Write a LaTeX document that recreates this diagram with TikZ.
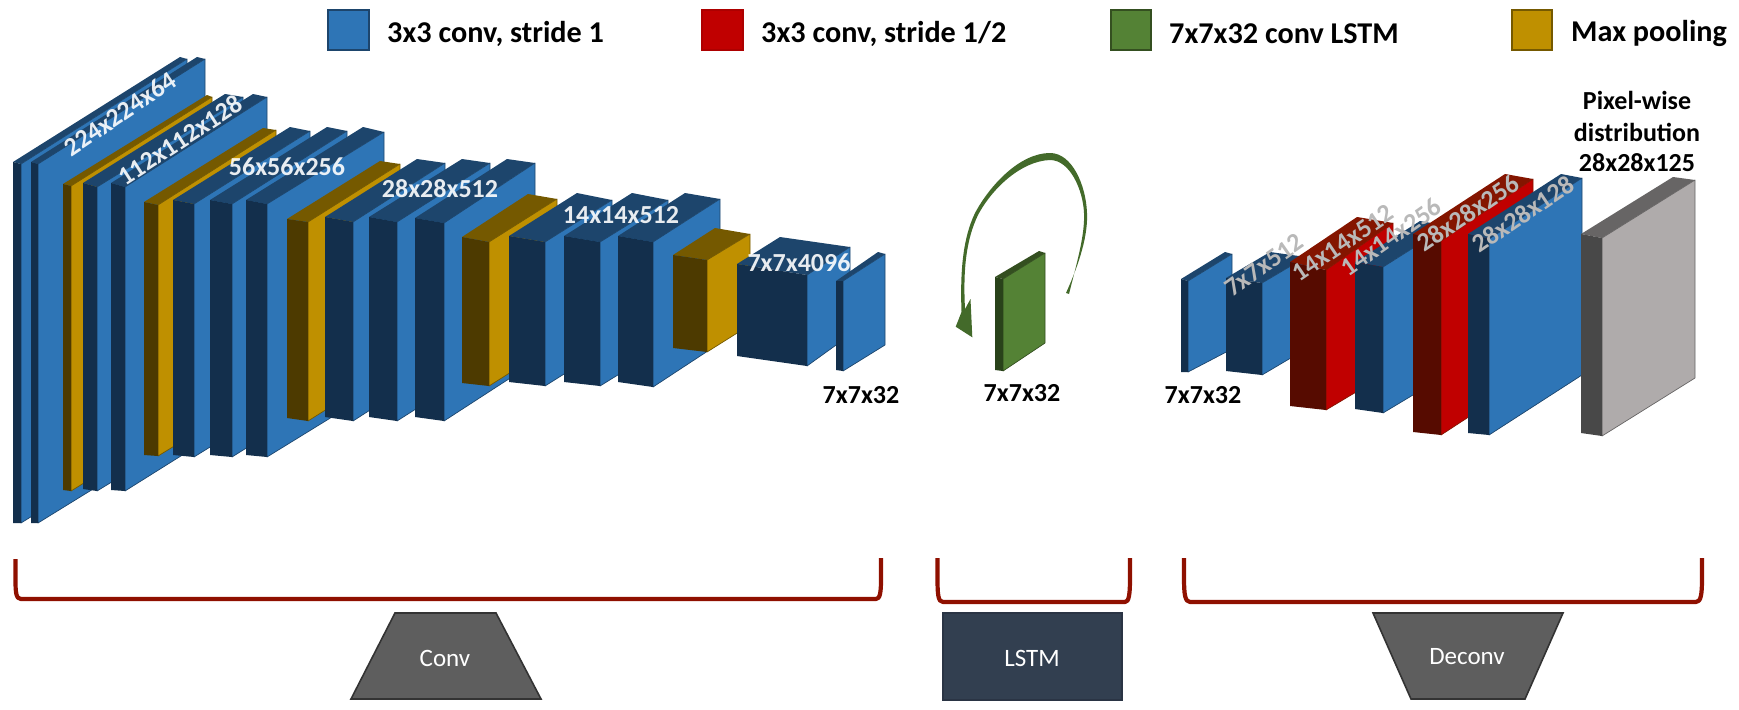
\documentclass[tikz,border=0pt]{standalone}
\usepackage{fontspec}
\setmainfont{Carlito}
\definecolor{bluef}{HTML}{2E75B6}\definecolor{blued}{HTML}{132F4C}\definecolor{bluet}{HTML}{1D456C}
\definecolor{yelf}{HTML}{BF9000}\definecolor{yeld}{HTML}{4D3A00}\definecolor{yelt}{HTML}{755900}
\definecolor{redf}{HTML}{C00000}\definecolor{redd}{HTML}{560B00}\definecolor{redt}{HTML}{841500}
\definecolor{grnf}{HTML}{548235}\definecolor{grnd}{HTML}{29421A}\definecolor{grnt}{HTML}{344F20}
\definecolor{gryf}{HTML}{AFABAB}\definecolor{gryd}{HTML}{484848}\definecolor{gryt}{HTML}{676565}
\definecolor{brk}{HTML}{8F1000}\definecolor{arrowg}{HTML}{436A2A}
% x0 x1 x2 x3 | y0 y1 y2 y3 | yb0 yb1 yb2 | colour
\newcommand{\cub}[4]{\cubB{#1}{#2}{#3}{#4}}
\newcommand{\cubB}[4]{\def\xa{#1}\def\xb{#2}\def\xc{#3}\def\xd{#4}\cubC}
\newcommand{\cubC}[4]{\def\ya{#1}\def\yb{#2}\def\yc{#3}\def\yd{#4}\cubD}
\newcommand{\cubD}[4]{%
  \fill[#4t] (\xa,\ya)--(\xb,\yb)--(\xc,\yc)--(\xd,\yd)--cycle;
  \filldraw[fill=#4f,draw=#4t,line width=0.7pt,line join=round] (\xb,\yb)--(\xc,\yc)--(\xc,#3)--(\xb,#2)--cycle;
  \fill[#4d] (\xa,\ya)--(\xb,\yb)--(\xb,#2)--(\xa,#1)--cycle;}
\tikzset{
  wl/.style={text=white,font=\bfseries\fontsize{26}{30}\selectfont,inner sep=0pt,text opacity=0.9},
  gl/.style={text=gray!55,font=\bfseries\fontsize{26}{30}\selectfont,inner sep=0pt},
  bl/.style={text=black,font=\bfseries\fontsize{26}{31}\selectfont,inner sep=0pt,align=center},
  lg/.style={text=black,font=\bfseries\fontsize{30.2}{36}\selectfont,inner sep=0pt,anchor=west},
  sw/.style={line width=1.6pt},
  tag/.style={text=white,font=\fontsize{25}{30}\selectfont,inner sep=0pt},
  bracket/.style={draw=brk,line width=4.2pt,line join=round},
  shapebox/.style={draw=black!80,line width=1.6pt,fill=black!63}
}
\begin{document}
\begin{tikzpicture}[x=1pt,y=-1pt]
\useasboundingbox (0,0) rectangle (1739,709);
% legend
\filldraw[sw,fill=bluef,draw=bluet] (328,10) rectangle (369,50);
\filldraw[sw,fill=redf,draw=redf!90!black] (702,10) rectangle (743,50);
\filldraw[sw,fill=grnf,draw=grnt] (1111,10) rectangle (1151,50);
\filldraw[sw,fill=yelf,draw=yelt] (1512,10) rectangle (1552,50);
\node[lg] (l1) at (387,33.5) {3x3 conv, stride 1};
\node[lg] (l2) at (761,33.5) {3x3 conv, stride 1/2};
\node[lg] (l3) at (1169,33.5) {7x7x32 conv LSTM};
\node[lg] (l4) at (1571,33.5) {Max pooling};
% encoder
\cub{13}{21}{187}{180}{162}{164}{59}{57}{523}{523}{420}{blue}
\cub{31}{38}{205}{197}{162}{164}{59}{57}{523}{523}{420}{blue}
\cub{63}{71}{212}{207}{184}{186}{97}{95}{490}{491}{404}{yel}
\cub{83}{97}{243}{225}{183}{187}{97}{94}{489}{491}{402}{blue}
\cub{111}{125}{267}{253}{183}{187}{97}{94}{490}{491}{402}{blue}
\cub{144}{158}{276}{263}{202}{205}{130}{128}{455}{456}{384}{yel}
\cub{173}{194}{310}{290}{200}{204}{131}{127}{455}{457}{385}{blue}
\cub{210}{232}{347}{327}{200}{204}{131}{127}{455}{457}{385}{blue}
\cub{246}{267}{384}{363}{200}{204}{132}{127}{455}{457}{385}{blue}
\cub{287}{308}{400}{380}{219}{222}{164}{161}{418}{421}{363}{yel}
\cub{325}{353}{445}{417}{217}{222}{163}{159}{417}{421}{362}{blue}
\cub{369}{397}{490}{462}{217}{222}{163}{159}{417}{421}{362}{blue}
\cub{415}{444}{535}{507}{218}{223}{163}{159}{417}{421}{362}{blue}
\cub{462}{489}{557}{528}{237}{242}{199}{194}{383}{386}{343}{yel}
\cub{509}{545}{612}{577}{236}{242}{200}{193}{382}{386}{344}{blue}
\cub{564}{600}{668}{632}{236}{242}{200}{193}{382}{386}{344}{blue}
\cub{618}{653}{720}{685}{236}{242}{199}{193}{382}{387}{343}{blue}
\cub{673}{707}{750}{715}{255}{260}{234}{228}{348}{352}{325}{yel}
\cub{737}{807}{850}{780}{264}{275}{247}{237}{356}{366}{335}{blue}
\cub{836}{843}{885}{878}{281}{281}{254}{252}{370}{371}{345}{blue}
% LSTM block and loop
\cub{995}{1003}{1045}{1039}{277}{279}{253}{251}{370}{371}{343}{grn}
\fill[arrowg] (1066,293) .. controls (1080,262) and (1088,235) .. (1087,213)
  .. controls (1086,185) and (1072,153) .. (1050,153)
  .. controls (1020,153) and (990,185) .. (975,213)
  .. controls (963,238) and (960,270) .. (961.5,312)
  -- (955.7,326.7) -- (972.3,337.3) -- (970.5,299) -- (965,309)
  .. controls (963,270) and (966,240) .. (978,215)
  .. controls (993,187) and (1022,161) .. (1050,160)
  .. controls (1070,160) and (1083,190) .. (1084,213)
  .. controls (1085,235) and (1077,262) .. (1069,294) -- cycle;
% decoder
\cub{1181}{1188}{1232}{1225}{279}{281}{254}{252}{372}{372}{349}{blue}
\cub{1226}{1262}{1306}{1270}{278}{283}{257}{252}{371}{375}{349}{blue}
\cub{1290}{1326}{1393}{1357}{262}{270}{223}{217}{406}{410}{370}{red}
\cub{1355}{1383}{1448}{1420}{262}{267}{226}{221}{409}{413}{374}{blue}
\cub{1413}{1441}{1533}{1505}{234}{241}{179}{174}{432}{435}{375}{red}
\cub{1468}{1489}{1582}{1561}{234}{239}{178}{174}{433}{435}{375}{blue}
\cub{1581}{1602}{1695}{1673}{234}{238}{180}{177}{433}{436}{378}{gry}
% labels
\node[wl,rotate=33.8] (e1) at (120,114) {224x224x64};
\node[wl,rotate=33] (e2) at (180,140) {112x112x128};
\node[wl] (e3) at (287,167) {56x56x256};
\node[wl] (e4) at (440,189) {28x28x512};
\node[wl] (e5) at (621,215) {14x14x512};
\node[wl] (e6) at (799,263) {7x7x4096};
\node[gl,rotate=35] (d1) at (1264,265) {7x7x512};
\node[gl,rotate=34] (d2) at (1343,243) {14x14x512};
\node[gl,rotate=35] (d3) at (1391,237) {14x14x256};
\node[gl,rotate=34] (d4) at (1468,213) {28x28x256};
\node[gl,rotate=34] (d5) at (1523,214) {28x28x128};
\node[bl] (s1) at (861,395) {7x7x32};
\node[bl] (s2) at (1022,393) {7x7x32};
\node[bl] (s3) at (1203,395) {7x7x32};
\node[bl] (s4) at (1637,100) {Pixel-wise};
\node[bl] (s5) at (1637,132) {distribution};
\node[bl] (s6) at (1637,163) {28x28x125};
% brackets
\draw[bracket] (15.5,559) -- (15.5,580) .. controls (15.5,592) and (16,599) .. (21,599) -- (876,599) .. controls (880,599) and (881,592) .. (881,580) -- (881,558);
\draw[bracket] (937.5,558) -- (937.5,578) .. controls (937.5,594) and (938,602) .. (943,602) -- (1125,602) .. controls (1129,602) and (1130,594) .. (1130,578) -- (1130,558);
\draw[bracket] (1184,558) -- (1184,578) .. controls (1184,594) and (1185,602) .. (1190,602) -- (1696,602) .. controls (1701,602) and (1702,594) .. (1702,578) -- (1702,558);
% bottom shapes
\filldraw[shapebox] (395,613) -- (496,613) -- (541,699) -- (351,699) -- cycle;
\node[tag] (t1) at (445,658) {Conv};
\filldraw[draw={rgb,255:red,42;green,52;blue,68},line width=1.6pt,fill={rgb,255:red,50;green,63;blue,80}] (943,613) rectangle (1122,700);
\node[tag] (t2) at (1032,658) {LSTM};
\filldraw[shapebox] (1373,613) -- (1563,613) -- (1525,699) -- (1411,699) -- cycle;
\node[tag] (t3) at (1467,657) {Deconv};
\end{tikzpicture}
\end{document}
